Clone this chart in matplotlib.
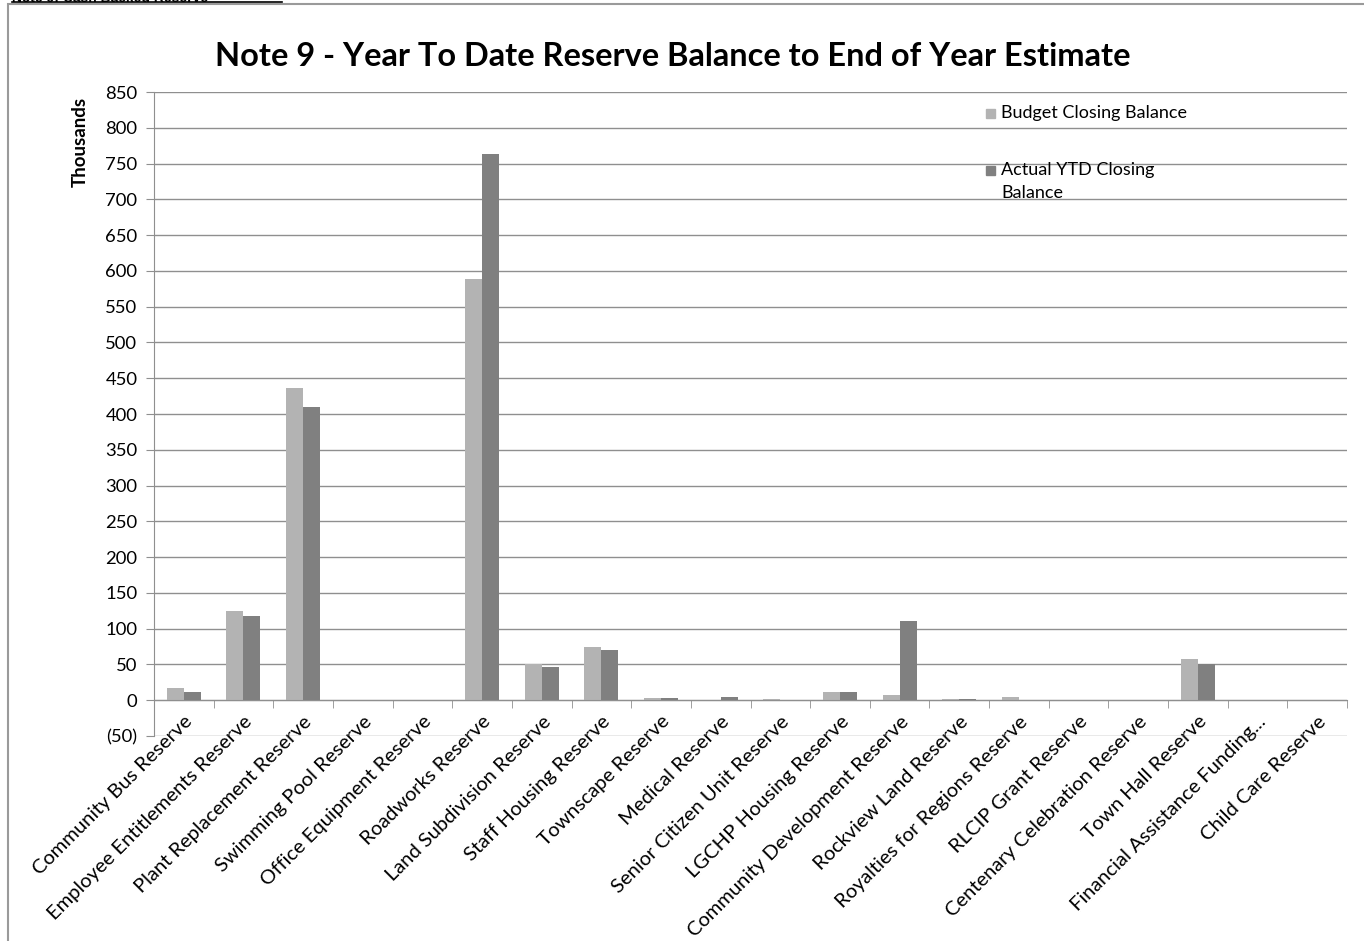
import matplotlib
matplotlib.use("Agg")
import matplotlib.pyplot as plt
import numpy as np
from matplotlib.patches import Rectangle
from matplotlib.ticker import FuncFormatter, MultipleLocator
from matplotlib.lines import Line2D

categories = [
    "Community Bus Reserve", "Employee Entitlements Reserve", "Plant Replacement Reserve",
    "Swimming Pool Reserve", "Office Equipment Reserve", "Roadworks Reserve",
    "Land Subdivision Reserve", "Staff Housing Reserve", "Townscape Reserve",
    "Medical Reserve", "Senior Citizen Unit Reserve", "LGCHP Housing Reserve",
    "Community Development Reserve", "Rockview Land Reserve", "Royalties for Regions Reserve",
    "RLCIP Grant Reserve", "Centenary Celebration Reserve", "Town Hall Reserve",
    "Financial Assistance Funding...", "Child Care Reserve",
]
budget = [17, 125, 437, 1, 1, 588, 50, 75, 2.5, 0, 2, 11, 7, 2, 4, 0, 0, 57, 0, 0]
actual = [11, 118, 410, 1, 1, 763, 47, 70, 2.5, 4, 0.5, 11, 111, 2, 0, 0, 0, 50, 0, 1]
series_names = ["Budget Closing Balance", "Actual YTD Closing\nBalance"]

FONT = "Lato"
plt.rcParams['font.family'] = [FONT, 'DejaVu Sans']

W, H = 1364, 941
fig = plt.figure(figsize=(W / 100, H / 100), dpi=100)

def fx(px):
    return px / W

def fy(py):
    return 1 - py / H

# outer border
fig.patches.append(Rectangle((fx(8), fy(960)), fx(1400), fy(4) - fy(960),
                             transform=fig.transFigure, fill=False,
                             edgecolor="#9a9a9a", lw=1.5, zorder=0))
# clipped heading at the very top
fig.text(fx(12), fy(-2), "Note 9: Cash Backed Reserve", fontsize=10, fontweight="bold",
         ha="left", va="center", family=["Liberation Sans"])
fig.add_artist(Line2D([fx(12), fx(282)], [fy(2), fy(2)], transform=fig.transFigure,
                      color="black", lw=1.2))

left, right, top, bottom = 154, 1347, 92, 736
ax = fig.add_axes([fx(left), fy(bottom), fx(right) - fx(left), fy(top) - fy(bottom)])

x = np.arange(len(categories))
bw = 0.285
grid_c = "#8f8f8f"
ax.bar(x - bw / 2, budget, bw, color="#b3b3b3", zorder=3, label=series_names[0])
ax.bar(x + bw / 2, actual, bw, color="#808080", zorder=3, label=series_names[1])

ax.set_xlim(-0.5, len(categories) - 0.5)
ax.set_ylim(-50, 850)
ax.yaxis.set_major_locator(MultipleLocator(50))
ax.yaxis.set_major_formatter(FuncFormatter(lambda v, p: f"({abs(int(v))})" if v < 0 else f"{int(v)}"))
ax.grid(axis="y", color=grid_c, lw=1.0, zorder=0)
ax.set_axisbelow(True)

for s in ["top", "right"]:
    ax.spines[s].set_visible(False)
ax.spines["left"].set_color(grid_c)
ax.spines["bottom"].set_color(grid_c)
ax.spines["bottom"].set_position(("data", 0))
ax.spines["bottom"].set_zorder(4)

ax.set_xticks(x)
ax.set_xticklabels(categories, rotation=45, ha="right", rotation_mode="anchor", fontsize=14.5)
ax.set_xticks(np.arange(len(categories) + 1) - 0.5, minor=True)
ax.tick_params(axis="x", which="major", length=0, pad=9)
ax.tick_params(axis="x", which="minor", length=6, color=grid_c, direction="out")
ax.tick_params(axis="y", length=6, color=grid_c, labelsize=13.3, pad=6)

# legend (manual)
sq = 9
legend_rows = [(113, "#b3b3b3", series_names[0]), (170, "#808080", series_names[1])]
for yy, col, lab in legend_rows:
    fig.patches.append(Rectangle((fx(986), fy(yy + sq / 2)), fx(sq), fy(yy - sq / 2) - fy(yy + sq / 2),
                                 transform=fig.transFigure, color=col, zorder=5))
    for k, line in enumerate(lab.split("\n")):
        fig.text(fx(1001), fy(yy + 23 * k), line, fontsize=13, ha="left", va="center")

fig.text(fx(673), fy(57), "Note 9 - Year To Date Reserve Balance to End of Year Estimate",
         fontsize=23.4, fontweight="bold", ha="center", va="center")
fig.text(fx(80), fy(142), "Thousands", fontsize=13.5, fontweight="bold", rotation=90,
         ha="center", va="center")

fig.savefig("out.png", dpi=100, facecolor="white")
